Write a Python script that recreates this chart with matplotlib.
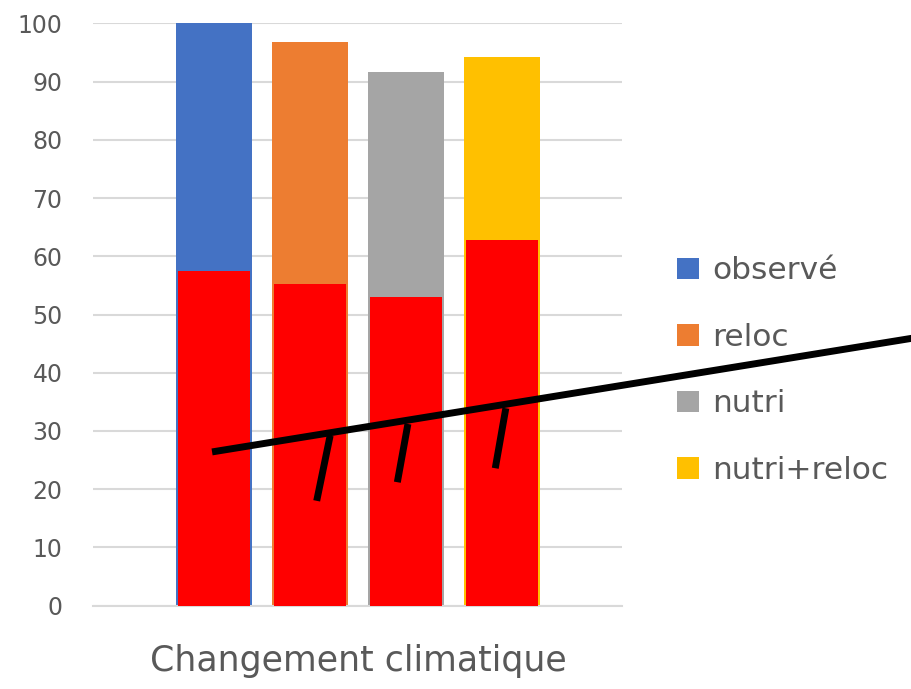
import matplotlib.pyplot as plt

# series values
series = ['observé', 'reloc', 'nutri', 'nutri+reloc']
totals = [100.0, 96.8, 91.7, 94.3]
red_part = [57.4, 55.2, 53.0, 62.8]
colors = ['#4472C4', '#ED7D31', '#A5A5A5', '#FFC000']
category = 'Changement climatique'
yticks = [0, 10, 20, 30, 40, 50, 60, 70, 80, 90, 100]

# hand-drawn black annotation (x in bar slots, y in data units)
stroke_x = [-0.02, 7.3]
stroke_y = [26.4, 46.0]
ticks_x = [[1.21, 1.07], [2.02, 1.91], [3.04, 2.93]]
ticks_y = [[29.2, 18.0], [31.2, 21.2], [33.9, 23.6]]

txt = '#595959'
grid = '#d9d9d9'

fig = plt.figure(figsize=(9.12, 6.89), dpi=100)
ax = fig.add_axes([0.102, 0.121, 0.580, 0.845])

pos = range(len(series))
bars = ax.bar(pos, totals, width=0.79, color=colors, zorder=2)
ax.bar(pos, red_part, width=0.74, color='#FF0000', zorder=3)

ax.set_xlim(-1.26, 4.25)
ax.set_ylim(0, 100)
ax.set_yticks(yticks)
ax.set_xticks([])
ax.yaxis.grid(True, color=grid, linewidth=1.5, zorder=0)
ax.set_axisbelow(True)
for side in ['top', 'right', 'left']:
    ax.spines[side].set_visible(False)
ax.spines['bottom'].set_color(grid)
ax.spines['bottom'].set_linewidth(1.5)
ax.tick_params(axis='y', length=0, labelsize=17, labelcolor=txt, pad=22)

ax.text(1.5, -0.095, category, transform=ax.get_xaxis_transform(),
        ha='center', va='center', fontsize=25, color=txt)

ax.plot(stroke_x, stroke_y, color='black', linewidth=5,
        solid_capstyle='butt', clip_on=False, zorder=5)
for tx, ty in zip(ticks_x, ticks_y):
    ax.plot(tx, ty, color='black', linewidth=5,
            solid_capstyle='butt', clip_on=False, zorder=5)

leg = fig.legend(list(bars), series, loc='center left',
                 bbox_to_anchor=(0.712, 0.462), frameon=False, fontsize=22.5,
                 handlelength=0.7, handleheight=0.7, handletextpad=0.42,
                 labelspacing=1.2)
for t in leg.get_texts():
    t.set_color(txt)

fig.savefig('out.png', dpi=100)
